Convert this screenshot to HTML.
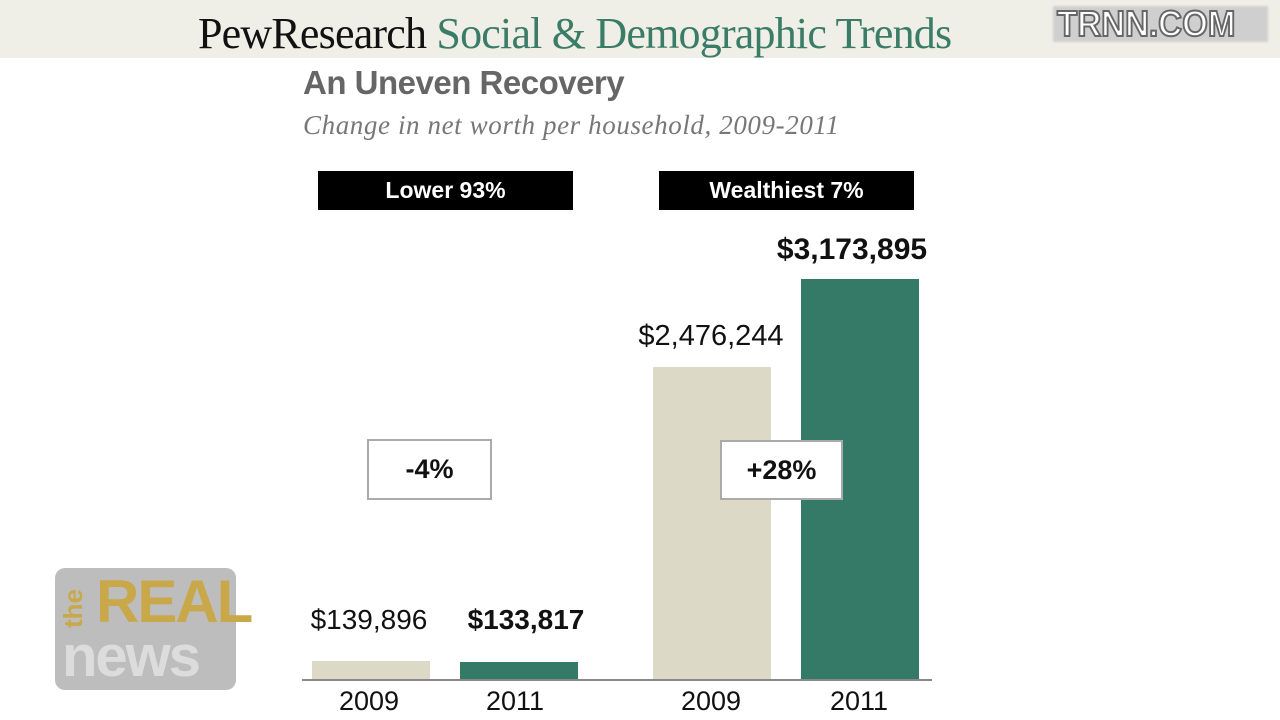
<!DOCTYPE html>
<html><head><meta charset="utf-8"><style>
body{margin:0;width:1280px;height:720px;background:#fff;position:relative;overflow:hidden;font-family:"Liberation Sans",sans-serif}
.a{position:absolute}
.hdr{left:0;top:0;width:1280px;height:58px;background:#f0efe7}
.bar{position:absolute}
.bg{background:#dcd9c6}.gr{background:#357a67}
.lbl{position:absolute;font-size:28px;color:#111;text-align:center;width:220px}
.yr{position:absolute;font-size:27px;color:#111;text-align:center;width:200px}
.box{position:absolute;background:#fff;border:2px solid #aaa;font-weight:bold;font-size:27px;display:flex;align-items:center;justify-content:center;color:#111}
.tag{position:absolute;background:#000;color:#fff;font-weight:bold;font-size:23px;display:flex;align-items:center;justify-content:center}
</style></head><body>
<div class="a hdr"></div>
<div class="a" style="left:198px;top:8px;font-family:'Liberation Serif',serif;font-size:44px;letter-spacing:-0.8px;white-space:nowrap"><span style="color:#111">PewResearch</span> <span style="color:#3a7c67">Social &amp; Demographic Trends</span></div>
<div class="a" style="left:1053px;top:6px;width:215px;height:36px;background:#cfcfcf;filter:blur(1px)"></div>
<div class="a" style="left:1057px;top:3px;font-weight:bold;font-size:36px;color:#fff;-webkit-text-stroke:2px #666;transform:scaleX(0.92);transform-origin:left top">TRNN.COM</div>
<div class="a" style="left:303px;top:64px;font-weight:bold;font-size:33px;color:#666;letter-spacing:-0.5px">An Uneven Recovery</div>
<div class="a" style="left:303px;top:110px;font-family:'Liberation Serif',serif;font-style:italic;font-size:27px;color:#777;letter-spacing:0.6px">Change in net worth per household, 2009-2011</div>
<div class="tag" style="left:318px;top:171px;width:255px;height:39px">Lower 93%</div>
<div class="tag" style="left:659px;top:171px;width:255px;height:39px">Wealthiest 7%</div>
<div class="bar bg" style="left:312px;top:661px;width:118px;height:19px"></div>
<div class="bar gr" style="left:460px;top:662px;width:118px;height:18px"></div>
<div class="bar bg" style="left:653px;top:367px;width:118px;height:313px"></div>
<div class="bar gr" style="left:801px;top:279px;width:118px;height:401px"></div>
<div class="a" style="left:302px;top:679px;width:630px;height:2px;background:#888"></div>
<div class="lbl" style="left:259px;top:604px">$139,896</div>
<div class="lbl" style="left:416px;top:604px;font-weight:bold">$133,817</div>
<div class="lbl" style="left:601px;top:320px;font-size:29px">$2,476,244</div>
<div class="lbl" style="left:742px;top:233px;font-weight:bold;font-size:30px">$3,173,895</div>
<div class="yr" style="left:269px;top:686px">2009</div>
<div class="yr" style="left:415px;top:686px">2011</div>
<div class="yr" style="left:611px;top:686px">2009</div>
<div class="yr" style="left:759px;top:686px">2011</div>
<div class="box" style="left:367px;top:439px;width:121px;height:57px">-4%</div>
<div class="box" style="left:720px;top:440px;width:119px;height:56px">+28%</div>
<div class="a" style="left:55px;top:568px;width:181px;height:122px;background:#bdbdbd;border-radius:10px"></div>
<div class="a" style="left:96px;top:572px;font-weight:bold;font-size:60px;color:#c9a84a;letter-spacing:-2px;line-height:60px">REAL</div>
<div class="a" style="left:62px;top:628px;font-weight:bold;font-size:58px;color:#dcdcdc;letter-spacing:-2px;line-height:58px">news</div>
<div class="a" style="left:58px;top:628px;font-weight:bold;font-size:26px;color:#c9a84a;transform:rotate(-90deg);transform-origin:left top">the</div>
</body></html>
